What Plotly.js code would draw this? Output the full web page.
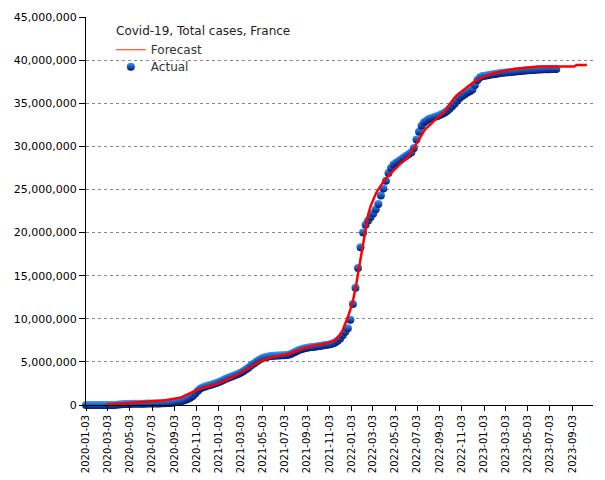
<!DOCTYPE html>
<html>
<head>
<meta charset="utf-8">
<script src="https://cdn.plot.ly/plotly-3.0.1.min.js"></script>
<style>
html,body{margin:0;padding:0;background:#fff;}
#chart{width:605px;height:480px;}
</style>
</head>
<body>
<div id="chart"></div>
<script>
// Weekly observations, starting 2020-01-03 (values in millions of cases)
const actualStart = '2020-01-03';
const actualValues = [
  0.0, 0.0, 0.0, 0.0, 0.0, 0.0, 0.0, 0.0, 0.0, 0.001,
  0.004, 0.012, 0.033, 0.065, 0.09, 0.11, 0.12, 0.13, 0.138, 0.142,
  0.145, 0.15, 0.153, 0.157, 0.16, 0.163, 0.167, 0.171, 0.177, 0.183,
  0.19, 0.2, 0.22, 0.24, 0.27, 0.31, 0.36, 0.42, 0.48, 0.57,
  0.69, 0.85, 1.05, 1.33, 1.66, 1.9, 2.05, 2.15, 2.25, 2.33,
  2.43, 2.53, 2.64, 2.76, 2.9, 3.03, 3.16, 3.29, 3.4, 3.5,
  3.63, 3.78, 3.95, 4.15, 4.35, 4.6, 4.82, 5.03, 5.22, 5.38,
  5.5, 5.58, 5.64, 5.68, 5.71, 5.73, 5.74, 5.76, 5.78, 5.81,
  5.87, 5.98, 6.12, 6.27, 6.4, 6.5, 6.58, 6.64, 6.69, 6.73,
  6.77, 6.81, 6.85, 6.9, 6.95, 7.0, 7.05, 7.12, 7.25, 7.45,
  7.7, 8.1, 8.5, 8.9, 9.9, 11.7, 13.6, 15.9, 18.3, 20.0,
  20.9, 21.4, 21.8, 22.2, 22.7, 23.3, 24.3, 25.1, 26.0, 26.9,
  27.5, 27.9, 28.1, 28.3, 28.5, 28.7, 28.9, 29.1, 29.3, 29.8,
  30.8, 31.7, 32.4, 32.8, 33.0, 33.2, 33.3, 33.4, 33.5, 33.6,
  33.75, 33.9, 34.1, 34.35, 34.65, 34.95, 35.3, 35.6, 35.85, 36.05,
  36.25, 36.4, 36.6, 37.1, 37.7, 38.0, 38.15, 38.2, 38.25, 38.3,
  38.35, 38.4, 38.45, 38.5, 38.53, 38.56, 38.59, 38.62, 38.65, 38.68,
  38.71, 38.74, 38.77, 38.8, 38.82, 38.84, 38.86, 38.88, 38.9, 38.92,
  38.93, 38.94, 38.95, 38.96, 38.97, 38.97
];
// Weekly model output, starting 2020-02-28 (values in millions of cases)
const forecastStart = '2020-02-28';
const forecastValues = [
  0.05, 0.07, 0.09, 0.1, 0.12, 0.13, 0.15, 0.16, 0.18, 0.19,
  0.21, 0.22, 0.24, 0.26, 0.28, 0.3, 0.32, 0.35, 0.38, 0.41,
  0.44, 0.48, 0.52, 0.56, 0.6, 0.64, 0.68, 0.72, 0.77, 0.85,
  0.96, 1.1, 1.25, 1.4, 1.55, 1.68, 1.78, 1.87, 1.95, 2.02,
  2.1, 2.18, 2.27, 2.37, 2.48, 2.6, 2.72, 2.85, 2.98, 3.12,
  3.27, 3.42, 3.6, 3.78, 3.97, 4.15, 4.33, 4.5, 4.68, 4.85,
  5.0, 5.13, 5.25, 5.36, 5.45, 5.52, 5.58, 5.63, 5.68, 5.73,
  5.79, 5.86, 5.95, 6.06, 6.18, 6.3, 6.42, 6.53, 6.63, 6.72,
  6.8, 6.87, 6.93, 6.98, 7.03, 7.08, 7.13, 7.19, 7.27, 7.38,
  7.55, 7.8, 8.15, 8.7, 9.4, 10.2, 11.1, 12.1, 13.5, 15.2,
  17.3, 19.1, 20.8, 22.1, 23.1, 23.9, 24.5, 25.0, 25.5, 25.9,
  26.3, 26.6, 27.0, 27.3, 27.55, 27.8, 28.05, 28.3, 28.55, 28.85,
  29.3, 29.8, 30.4, 30.9, 31.4, 31.8, 32.15, 32.45, 32.75, 33.0,
  33.25, 33.5, 33.75, 34.0, 34.45, 34.9, 35.3, 35.65, 35.95, 36.2,
  36.45, 36.7, 36.95, 37.15, 37.35, 37.55, 37.72, 37.88, 38.0, 38.12,
  38.25, 38.35, 38.45, 38.53, 38.6, 38.67, 38.73, 38.79, 38.85, 38.9,
  38.95, 39.0, 39.04, 39.08, 39.11, 39.14, 39.17, 39.19, 39.21, 39.23,
  39.25, 39.25, 39.25, 39.25, 39.25, 39.25, 39.25, 39.25, 39.25, 39.25,
  39.25, 39.25, 39.25, 39.25, 39.26, 39.42, 39.43, 39.43, 39.43, 39.43
];
const seriesNames = ['Forecast', 'Actual'];
const chartTitle = 'Covid-19, Total cases, France';

function weeklyDates(start, n) {
  const out = [];
  const d0 = new Date(start + 'T00:00:00Z');
  for (let i = 0; i < n; i++) {
    const d = new Date(d0.getTime() + i * 7 * 86400000);
    out.push(d.toISOString().slice(0, 10));
  }
  return out;
}
const M = 1e6;
const actual = {
  type: 'scatter', mode: 'markers', name: seriesNames[1], legend: 'legend2',
  x: weeklyDates(actualStart, actualValues.length),
  y: actualValues.map(v => v * M),
  cliponaxis: false,
  marker: {size: 8, color: '#3a9dff', line: {width: 0},
           gradient: {type: 'vertical', color: '#001470'}}
};
const forecast = {
  type: 'scatter', mode: 'lines', name: seriesNames[0], showlegend: false,
  x: weeklyDates(forecastStart, forecastValues.length),
  y: forecastValues.map(v => v * M),
  line: {color: '#ff0000', width: 2.5}
};
// legend entry only (thin line key, as in the original)
const forecastKey = {
  type: 'scatter', mode: 'lines', name: seriesNames[0], legend: 'legend',
  x: [null], y: [null], hoverinfo: 'skip',
  line: {color: '#ff2a00', width: 1}
};
const legFont = {family: 'DejaVu Sans', size: 12, color: '#333'};
const layout = {
  width: 605, height: 480,
  margin: {l: 86, r: 12, t: 17, b: 75, pad: 0},
  paper_bgcolor: '#fff', plot_bgcolor: '#fff',
  font: {family: 'DejaVu Sans', size: 11, color: '#000'},
  showlegend: true,
  legend: {
    x: 0.049, y: 0.953, xanchor: 'left', yanchor: 'top',
    bgcolor: 'rgba(0,0,0,0)', font: legFont, itemwidth: 30
  },
  legend2: {
    x: 0.049, y: 0.9094, xanchor: 'left', yanchor: 'top',
    bgcolor: 'rgba(0,0,0,0)', font: legFont, itemwidth: 30
  },
  annotations: [{
    text: chartTitle, xref: 'paper', yref: 'paper',
    x: 0.0552, y: 0.964, xanchor: 'left', yanchor: 'middle',
    showarrow: false, font: {family: 'DejaVu Sans', size: 12, color: '#222'}
  }],
  xaxis: {
    type: 'date', range: ['2020-01-03', '2023-10-30'],
    tick0: '2020-01-03', dtick: 'M2', tickformat: '%Y-%m-%d',
    tickangle: -90, tickfont: {family: 'DejaVu Sans', size: 10, color: '#000'},
    ticks: 'outside', ticklen: 5, tickcolor: '#000',
    showgrid: false, zeroline: false,
    showline: true, linecolor: '#000', linewidth: 1
  },
  yaxis: {
    range: [0, 45000000], dtick: 5000000, tickformat: ',d',
    tickfont: {family: 'DejaVu Sans', size: 11, color: '#000'},
    ticks: 'outside', ticklen: 6, tickcolor: '#000',
    showgrid: true, gridcolor: '#888', griddash: '3px,3px', gridwidth: 1,
    zeroline: false, showline: true, linecolor: '#000', linewidth: 1
  }
};
Plotly.newPlot('chart', [actual, forecast, forecastKey], layout, {displayModeBar: false, staticPlot: true});
</script>
</body>
</html>
